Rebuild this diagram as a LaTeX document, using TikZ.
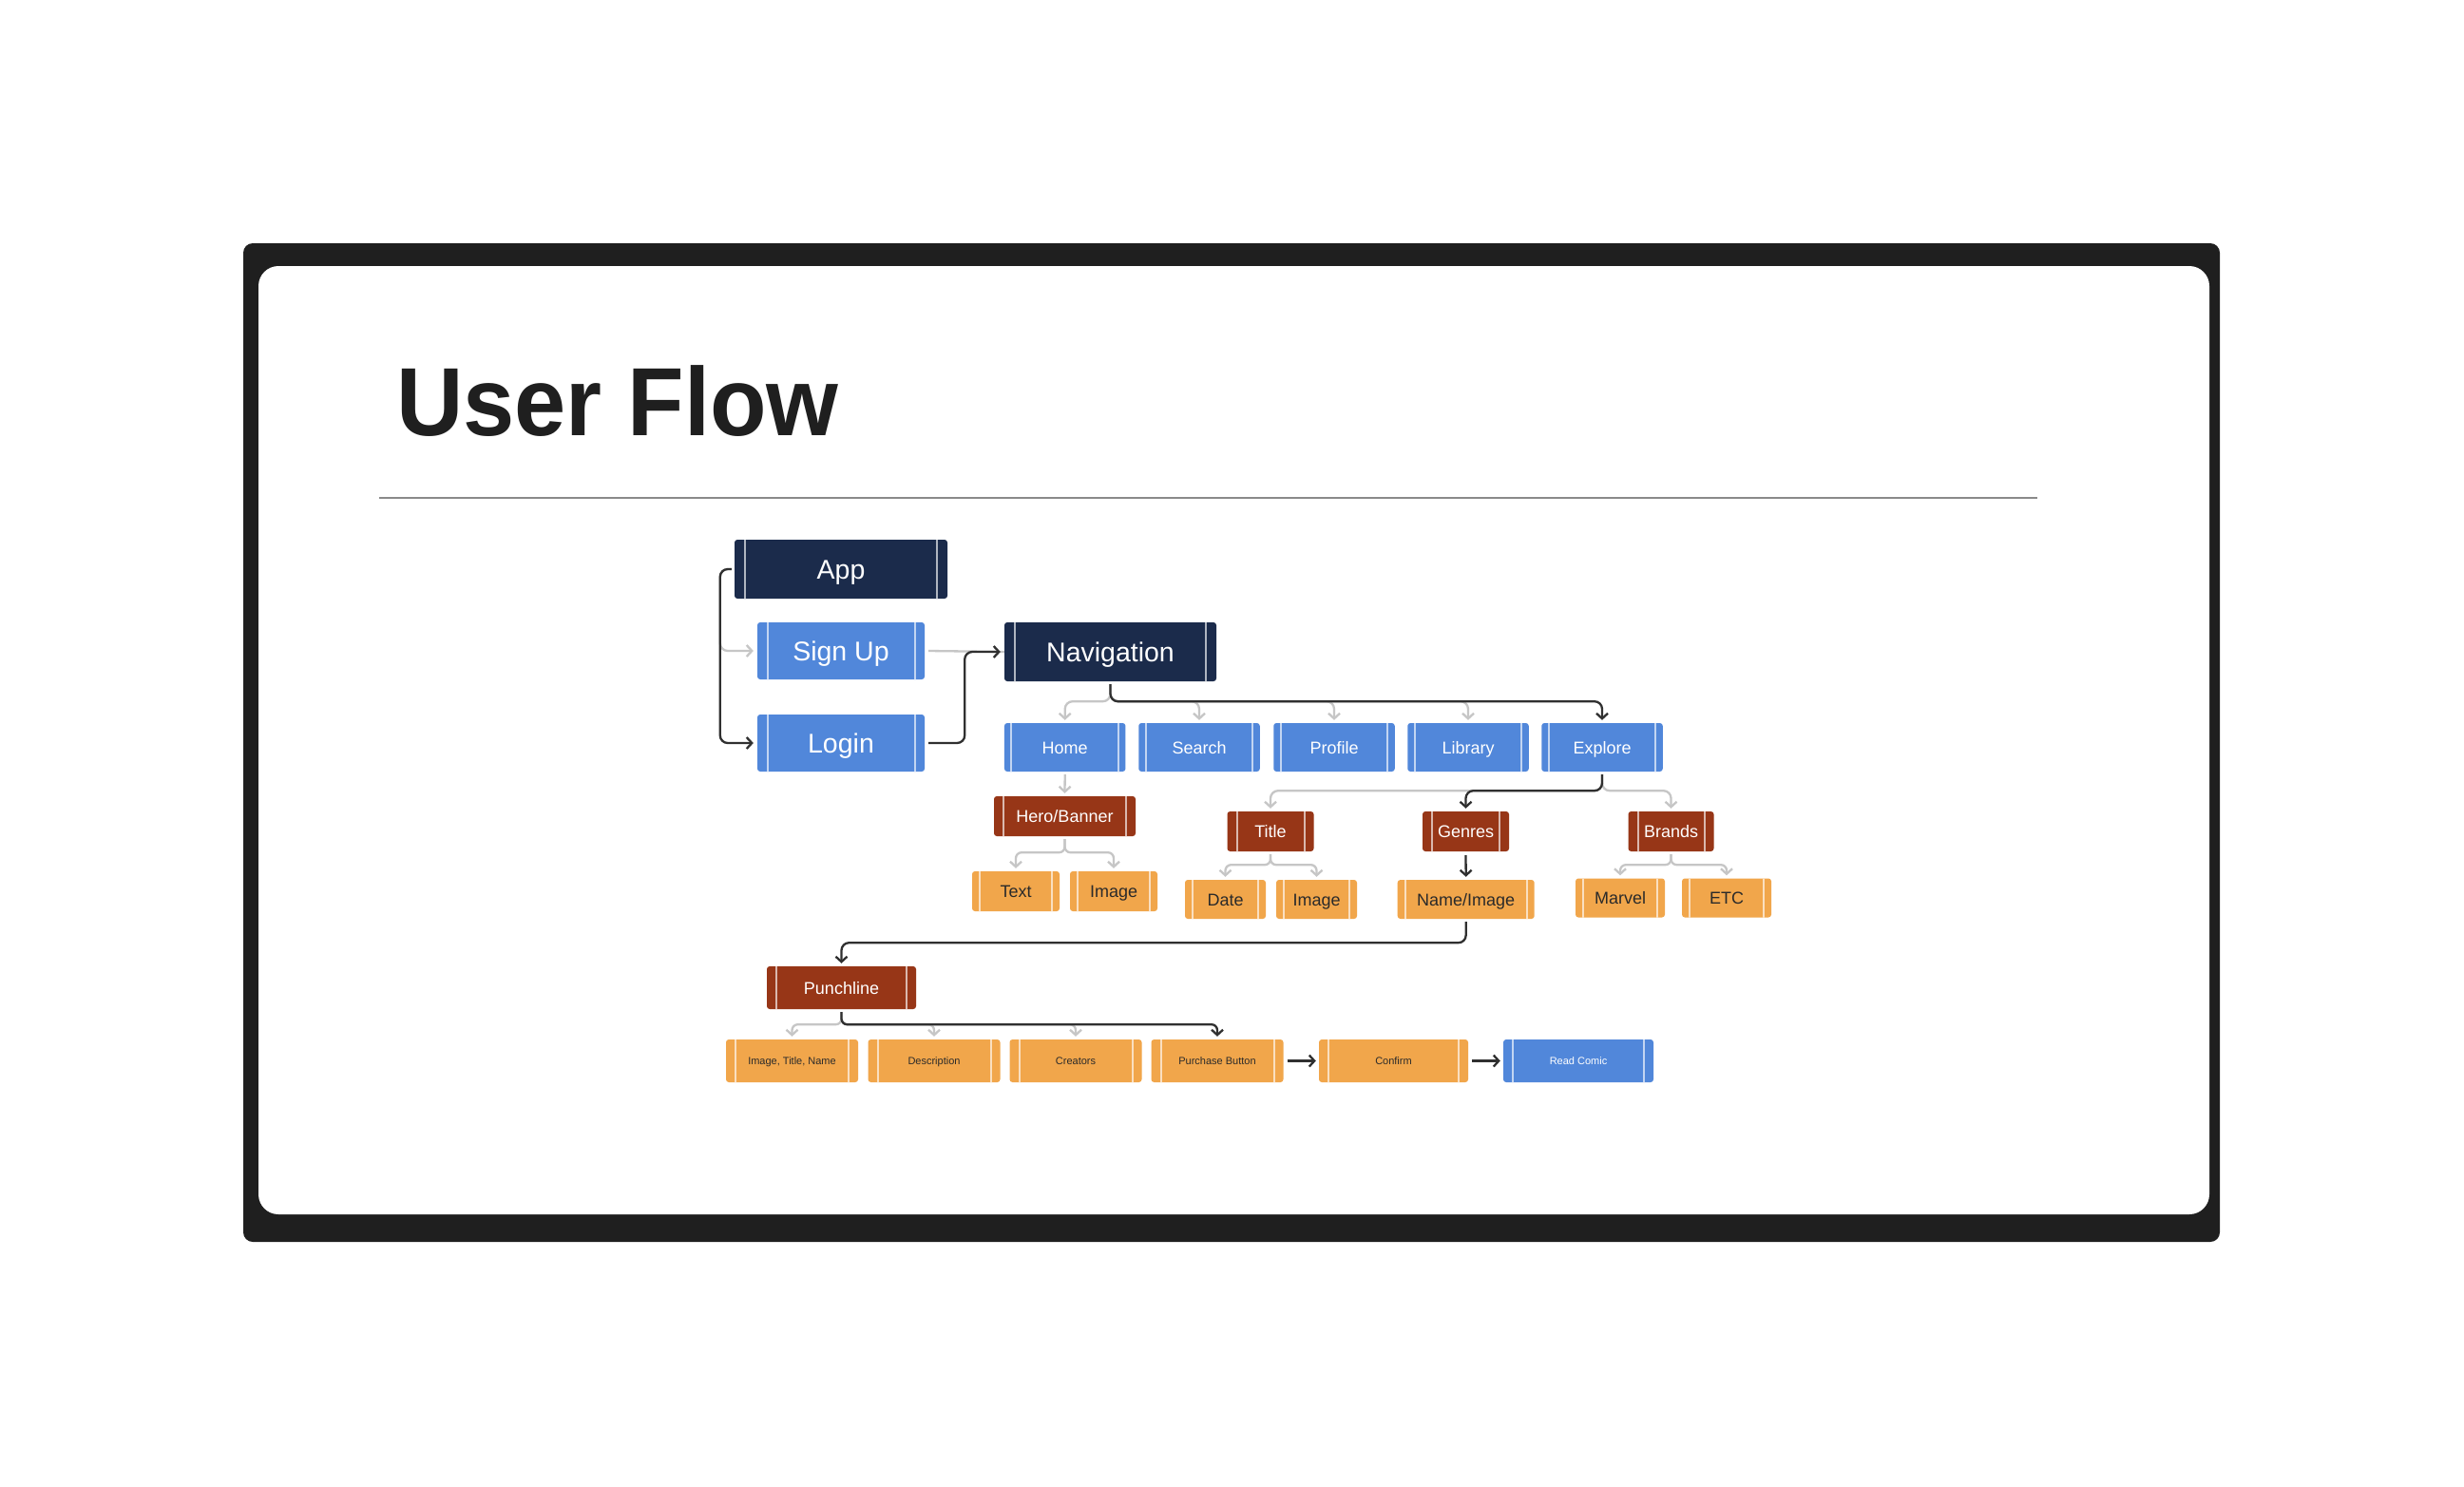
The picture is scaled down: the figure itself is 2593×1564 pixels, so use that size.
\documentclass[tikz,border=0pt]{standalone}
\usepackage{fontspec}
\setmainfont{Liberation Sans}
\usetikzlibrary{arrows.meta}
\definecolor{navy}{HTML}{1B2B4B}
\definecolor{fblue}{HTML}{5187DA}
\definecolor{rust}{HTML}{973617}
\definecolor{fora}{HTML}{F1A64B}
\definecolor{framec}{HTML}{1F1F1F}
\definecolor{lgray}{HTML}{C6C6C6}
\definecolor{dline}{HTML}{303030}
\definecolor{rulec}{HTML}{8A8A8A}
\definecolor{darktxt}{HTML}{2A2A2A}
\tikzset{
  barinset/.initial=10pt,
  flowbox/.style={rectangle, rounded corners=3pt, inner sep=0pt, align=center, text depth=0pt,
    path picture={
      \draw[white, draw opacity=0.65, line width=2pt]
        ([xshift=\pgfkeysvalueof{/tikz/barinset}]path picture bounding box.north west) --
        ([xshift=\pgfkeysvalueof{/tikz/barinset}]path picture bounding box.south west)
        ([xshift=-\pgfkeysvalueof{/tikz/barinset}]path picture bounding box.north east) --
        ([xshift=-\pgfkeysvalueof{/tikz/barinset}]path picture bounding box.south east);
    }},
  bigfont/.style={font=\fontsize{28.5}{30}\selectfont, text height=20.5pt},
  midfont/.style={font=\fontsize{18}{20}\selectfont, text height=13pt},
  smallfont/.style={font=\fontsize{11}{12}\selectfont, text height=7.9pt},
  navybox/.style={flowbox, bigfont, fill=navy, text=white, minimum width=224pt, minimum height=62pt, barinset=11pt},
  bluebig/.style={flowbox, bigfont, fill=fblue, text=white, minimum width=176pt, minimum height=60pt, barinset=10.5pt},
  bluemid/.style={flowbox, midfont, fill=fblue, text=white, minimum width=127.5pt, minimum height=51pt, barinset=7.5pt},
  rustbox/.style={flowbox, midfont, fill=rust, text=white, minimum height=42pt, barinset=10pt},
  orabox/.style={flowbox, midfont, fill=fora, text=darktxt, minimum height=41pt, barinset=8pt},
  orasmall/.style={flowbox, smallfont, fill=fora, text=darktxt, minimum width=139pt, minimum height=45pt, barinset=10pt},
  bluesmall/.style={flowbox, smallfont, fill=fblue, text=white, minimum width=158pt, minimum height=45pt, barinset=10pt},
  conn/.style={line width=2.3pt, rounded corners=8pt},
  garr/.style={conn, draw=lgray, -{Straight Barb[length=5.5pt,width=12pt]}},
  gline/.style={conn, draw=lgray},
  barr/.style={conn, draw=dline, -{Straight Barb[length=5.5pt,width=12pt]}},
  smallbr/.style={rounded corners=6pt},
}
\begin{document}
\begin{tikzpicture}[x=1pt, y=-1pt]
\fill[white] (0,0) rectangle (2593,1564);
\useasboundingbox (0,0) rectangle (2593,1564);
% frame
\fill[framec, rounded corners=10pt] (256,256) rectangle (2336,1307);
\fill[white, rounded corners=21pt] (272,280) rectangle (2325,1278);
% title and rule
\node[anchor=base west, inner sep=0pt, text=framec, font=\bfseries\fontsize{102}{102}\selectfont] (heading) at (417,458) {\scalebox{0.955}[1]{User Flow}};
\draw[rulec, line width=2.5pt] (399,524) -- (2144,524);

% nodes
\node[navybox] (app) at (885,599) {App};
\node[bluebig] (signup) at (885,685) {Sign Up};
\node[bluebig] (login) at (885,782) {Login};
\node[navybox, minimum width=223pt] (nav) at (1168.5,686) {Navigation};

\node[bluemid] (home) at (1120.7,786.5) {Home};
\node[bluemid] (search) at (1262,786.5) {Search};
\node[bluemid] (profile) at (1404,786.5) {Profile};
\node[bluemid] (library) at (1545,786.5) {Library};
\node[bluemid] (explore) at (1686,786.5) {Explore};

\node[rustbox, minimum width=149pt] (hero) at (1120.5,859) {Hero/Banner};
\node[rustbox, minimum width=91pt] (titlen) at (1337,875) {Title};
\node[rustbox, minimum width=91pt] (genres) at (1542.5,875) {Genres};
\node[rustbox, minimum width=90pt] (brands) at (1758.5,875) {Brands};

\node[orabox, minimum width=92pt, minimum height=42pt] (textn) at (1069,938) {Text};
\node[orabox, minimum width=92pt, minimum height=42pt] (imgA) at (1172,938) {Image};
\node[orabox, minimum width=85pt] (date) at (1289.5,946.5) {Date};
\node[orabox, minimum width=85pt] (imgB) at (1385.5,946.5) {Image};
\node[orabox, minimum width=144pt] (nameimg) at (1542.7,946.5) {Name/Image};
\node[orabox, minimum width=94pt] (marvel) at (1705,945) {Marvel};
\node[orabox, minimum width=94pt] (etc) at (1817,945) {ETC};

\node[rustbox, minimum width=157pt, minimum height=45pt] (punch) at (885.5,1039.5) {Punchline};

\node[orasmall] (itn) at (833.5,1116.5) {Image, Title, Name};
\node[orasmall] (desc) at (983,1116.5) {Description};
\node[orasmall] (creators) at (1132,1116.5) {Creators};
\node[orasmall] (purchase) at (1281,1116.5) {Purchase Button};
\node[orasmall, minimum width=157pt] (confirm) at (1466.5,1116.5) {Confirm};
\node[bluesmall] (read) at (1661,1116.5) {Read Comic};

% gray connectors first
\draw[garr] ([xshift=-3pt]app.west) -- ++(-12,0) |- ([xshift=-4pt]signup.west);
\draw[gline] ([xshift=4pt]signup.east) -- (nav.west);
\foreach \t in {home,search,profile,library}
  \draw[garr] ([yshift=-3pt]nav.south) -- ++(0,18) -| ([yshift=3pt]\t.north);
\draw[garr] ([yshift=-3pt]home.south) -- ([yshift=3pt]hero.north);
\foreach \t in {textn,imgA}
  \draw[garr, smallbr] ([yshift=-3pt]hero.south) -- ++(0,14) -| ([yshift=3pt]\t.north);
\foreach \t in {titlen,brands}
  \draw[garr] ([yshift=-3pt]explore.south) -- ++(0,17) -| ([yshift=3pt]\t.north);
\foreach \t in {date,imgB}
  \draw[garr, smallbr] ([yshift=-3pt]titlen.south) -- ++(0,11) -| ([yshift=3pt]\t.north);
\foreach \t in {marvel,etc}
  \draw[garr, smallbr] ([yshift=-3pt]brands.south) -- ++(0,11) -| ([yshift=3pt]\t.north);
\foreach \t in {itn,desc,creators}
  \draw[garr, smallbr] ([yshift=-3pt]punch.south) -- ++(0,13) -| ([yshift=3pt]\t.north);

% black connectors
\draw[barr] ([xshift=-3pt]app.west) -- ++(-12,0) |- ([xshift=-4pt]login.west);
\draw[barr] ([xshift=4pt]login.east) -- ++(38,0) |- ([xshift=-4pt]nav.west);
\draw[barr] ([yshift=-3pt]nav.south) -- ++(0,18) -| ([yshift=3pt]explore.north);
\draw[barr] ([yshift=-3pt]explore.south) -- ++(0,17) -| ([yshift=3pt]genres.north);
\draw[barr] ([yshift=-4pt]genres.south) -- ([yshift=3pt]nameimg.north);
\draw[barr] ([yshift=-3pt]nameimg.south) -- ++(0,22) -| ([yshift=3pt]punch.north);
\draw[barr, smallbr] ([yshift=-3pt]punch.south) -- ++(0,13) -| ([yshift=3pt]purchase.north);
\draw[barr] ([xshift=4pt]purchase.east) -- ([xshift=-3pt]confirm.west);
\draw[barr] ([xshift=4pt]confirm.east) -- ([xshift=-3pt]read.west);
\end{tikzpicture}
\end{document}
